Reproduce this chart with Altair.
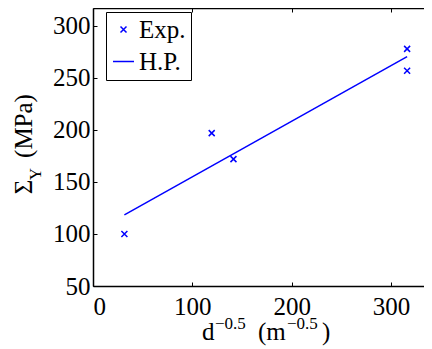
import altair as alt
import pandas as pd

# data
x_exp = [31.6, 119.5, 141.4, 316.2, 316.2]
y_exp = [100, 197, 172, 278, 257]
x_hp = [31.6, 316.2]
y_hp = [118.3, 270.5]
x_ticks = [0, 100, 200, 300]
y_ticks = [50, 100, 150, 200, 250, 300]
series_names = ["Exp.", "H.P."]

W, H = 331, 278
FONT = "Liberation Serif"
FS = 25
XPATH = "M-1,-1L1,1M-1,1L1,-1"

exp_df = pd.DataFrame({"x": x_exp, "y": y_exp, "series": series_names[0]})
hp_df = pd.DataFrame({"x": x_hp, "y": y_hp, "series": series_names[1]})

xscale = alt.Scale(domain=[0, 333.2], nice=False, zero=False)
yscale = alt.Scale(domain=[50, 317.3], nice=False, zero=False)

label_axis_common = dict(grid=False, title=None, ticks=False, tickSize=0, domain=True,
                         domainColor="black", domainWidth=1.5, labelFont=FONT,
                         labelFontSize=FS, labelColor="black")

legend = alt.Legend(title=None, orient="none", legendX=13, legendY=4,
                    strokeColor="black", fillColor="white", padding=5,
                    labelFontSize=FS, labelFont=FONT, labelColor="black",
                    rowPadding=6, labelOffset=3, symbolStrokeColor="blue",
                    symbolStrokeWidth=1.5)

points = alt.Chart(exp_df).mark_point(filled=False, color="blue", strokeWidth=1.5, opacity=1).encode(
    x=alt.X("x:Q", scale=xscale,
            axis=alt.Axis(values=x_ticks, orient="bottom", labelPadding=8, **label_axis_common)),
    y=alt.Y("y:Q", scale=yscale,
            axis=alt.Axis(values=y_ticks, orient="left", labelPadding=3, **label_axis_common)),
    shape=alt.Shape("series:N", scale=alt.Scale(domain=series_names, range=[XPATH, "stroke"]), legend=legend),
    size=alt.Size("series:N", scale=alt.Scale(domain=series_names, range=[36, 441]), legend=legend),
)

tick_common = dict(grid=False, title=None, labels=False, domain=False, ticks=True,
                   tickSize=4, tickColor="black", tickWidth=1)

line = alt.Chart(hp_df).mark_line(color="blue", strokeWidth=1.5).encode(
    x=alt.X("x:Q", scale=xscale, axis=alt.Axis(values=x_ticks, orient="top", offset=-H, **tick_common)),
    y=alt.Y("y:Q", scale=yscale, axis=alt.Axis(values=y_ticks, orient="right", offset=-W, **tick_common)),
)

topframe = alt.Chart(hp_df).mark_line(opacity=0).encode(
    x=alt.X("x:Q", scale=xscale,
            axis=alt.Axis(values=x_ticks, orient="bottom", offset=-H, grid=False, title=None, labels=False,
                          domain=True, domainColor="black", domainWidth=1.5, ticks=True, tickSize=4,
                          tickColor="black", tickWidth=1)),
    y=alt.Y("y:Q", scale=yscale, axis=None),
)

one = pd.DataFrame({"k": [0]})

def txt(s, x, y, size=FS, angle=0, align="left"):
    return alt.Chart(one).mark_text(text=s, font=FONT, fontSize=size, color="black",
                                    align=align, baseline="alphabetic", angle=angle).encode(
        x=alt.value(x), y=alt.value(y))

xtitle = [
    txt("d", 109, 332),
    txt("\u22120.5", 122, 321, size=17),
    txt("(m", 165, 332),
    txt("\u22120.5", 194, 321, size=17),
    txt(")", 229, 332),
]
ytitle = [
    txt("\u03a3", -61, 179, angle=270, align="center"),
    txt("Y", -52, 166, size=17, angle=270, align="center"),
    txt("(MPa)", -61, 118, angle=270, align="center"),
]

chart = alt.layer(points, line, topframe, *xtitle, *ytitle).resolve_axis(
    x="independent", y="independent"
).properties(
    width=W, height=H,
    autosize=alt.AutoSizeParams(type="none"),
    padding={"left": 85, "top": 0, "right": 0, "bottom": 63},
    background="white",
).configure_view(stroke=None).configure_axis(
    labelFont=FONT, labelFontSize=FS, labelColor="black"
).configure_legend(labelFont=FONT)

chart.save("out.html", embed_options={"renderer": "svg", "actions": False})
